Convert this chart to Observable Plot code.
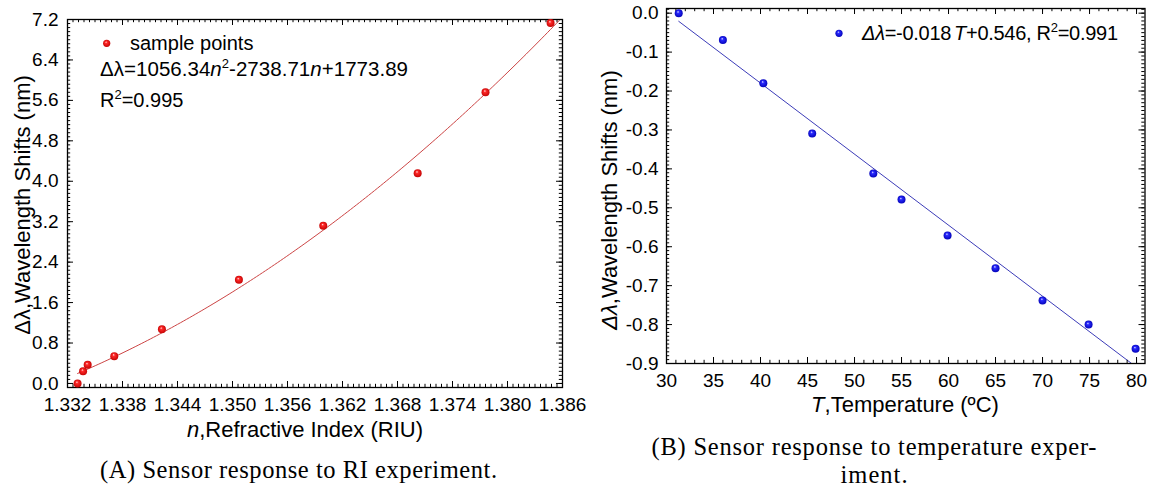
<!DOCTYPE html>
<html><head><meta charset="utf-8">
<script src="https://cdn.jsdelivr.net/npm/d3@7"></script>
<script src="https://cdn.jsdelivr.net/npm/@observablehq/plot@0.6"></script>
<style>
html,body{margin:0;padding:0;background:#fff;}
#wrap{position:relative;width:1152px;height:488px;overflow:hidden;background:#fff;}
#panelA{position:absolute;left:0;top:0;}
#panelB{position:absolute;left:576px;top:0;}
#overlay{position:absolute;left:0;top:0;pointer-events:none;font-family:"Liberation Sans",Arial,sans-serif;}
</style></head><body>
<svg width="0" height="0" style="position:absolute">
<defs>
<radialGradient id="ballRed" cx="50%" cy="50%" r="55%" fx="40%" fy="32%">
<stop offset="0%" stop-color="#ffe6e6"/>
<stop offset="28%" stop-color="#ff2a2a"/>
<stop offset="100%" stop-color="#c00000"/>
</radialGradient>
<radialGradient id="ballBlue" cx="50%" cy="50%" r="55%" fx="40%" fy="32%">
<stop offset="0%" stop-color="#e6e6ff"/>
<stop offset="28%" stop-color="#2a2aff"/>
<stop offset="100%" stop-color="#0000b4"/>
</radialGradient>
</defs></svg>
<div id="wrap">
<div id="panelA"></div>
<div id="panelB"></div>
<svg id="overlay" width="1152" height="488">
  <!-- Panel A texts -->
  <text transform="translate(30,205) rotate(-90)" text-anchor="middle" font-size="22" fill="#000">Δλ,Wavelength Shifts (nm)</text>
  <text x="305" y="437" text-anchor="middle" font-size="22" fill="#000"><tspan font-style="italic">n</tspan>,Refractive Index (RIU)</text>
  <circle cx="106.7" cy="43.3" r="3.6" fill="url(#ballRed)"/>
  <text x="130" y="50" font-size="20" fill="#000">sample points</text>
  <text x="100" y="76" font-size="20.5" textLength="308" lengthAdjust="spacing" fill="#000">Δλ=1056.34<tspan font-style="italic">n</tspan><tspan dy="-8" font-size="13">2</tspan><tspan dy="8">-2738.71</tspan><tspan font-style="italic">n</tspan>+1773.89</text>
  <text x="100" y="106.7" font-size="20" fill="#000">R<tspan dy="-8" font-size="13">2</tspan><tspan dy="8">=0.995</tspan></text>
  <!-- Panel B texts -->
  <text transform="translate(617,200) rotate(-90)" text-anchor="middle" font-size="22" fill="#000"><tspan font-style="italic">Δλ</tspan>,Wavelength Shifts (nm)</text>
  <text x="905" y="412" text-anchor="middle" font-size="22" fill="#000"><tspan font-style="italic">T</tspan>,Temperature (ºC)</text>
  <circle cx="839" cy="33.3" r="3.6" fill="url(#ballBlue)"/>
  <text x="862" y="40" font-size="20" textLength="256" lengthAdjust="spacing" fill="#000"><tspan font-style="italic">Δλ</tspan>=-0.018<tspan font-style="italic" dx="3">T</tspan>+0.546, R<tspan dy="-8" font-size="13">2</tspan><tspan dy="8">=0.991</tspan></text>
  <!-- Captions -->
  <text x="298.5" y="478" text-anchor="middle" font-family="'Liberation Serif','Times New Roman',serif" font-size="24.5" textLength="397" lengthAdjust="spacing" fill="#000">(A) Sensor response to RI experiment.</text>
  <text x="874" y="455" text-anchor="middle" font-family="'Liberation Serif','Times New Roman',serif" font-size="24.5" textLength="445" lengthAdjust="spacing" fill="#000">(B) Sensor response to temperature exper-</text>
  <text x="874" y="483" text-anchor="middle" font-family="'Liberation Serif','Times New Roman',serif" font-size="24.5" textLength="67" lengthAdjust="spacing" fill="#000">iment.</text>
</svg>
</div>
<script>
// ---------- Data: panel A (refractive index) ----------
const nA = [1.3331, 1.3337, 1.3342, 1.3371, 1.3423, 1.3507, 1.3599, 1.3702, 1.3776, 1.3847];
const dA = [0.00, 0.24, 0.37, 0.54, 1.07, 2.05, 3.12, 4.16, 5.76, 7.13];
const xTicksA = [1.332, 1.338, 1.344, 1.350, 1.356, 1.362, 1.368, 1.374, 1.380, 1.386];
const yTicksA = [0.0, 0.8, 1.6, 2.4, 3.2, 4.0, 4.8, 5.6, 6.4, 7.2];

// ---------- Data: panel B (temperature) ----------
const TB = [31.3, 36.0, 40.3, 45.5, 52.0, 55.0, 59.9, 65.0, 70.0, 74.9, 79.9];
const dB = [0.000, -0.069, -0.180, -0.309, -0.412, -0.479, -0.571, -0.655, -0.738, -0.800, -0.862];
const xTicksB = [30, 35, 40, 45, 50, 55, 60, 65, 70, 75, 80];
const yTicksB = [0.0, -0.1, -0.2, -0.3, -0.4, -0.5, -0.6, -0.7, -0.8, -0.9];

const dataA = nA.map((n, i) => ({n, d: dA[i]}));
const dataB = TB.map((t, i) => ({t, d: dB[i]}));

// least-squares quadratic fit of the sample points
function quadFit(xs, ys) {
  const m = d3.mean(xs);
  const u = xs.map(x => (x - m) * 100);
  const S = [0,0,0,0,0], T = [0,0,0];
  u.forEach((ui, i) => {
    for (let k = 0; k < 5; k++) S[k] += ui ** k;
    for (let k = 0; k < 3; k++) T[k] += ys[i] * ui ** k;
  });
  const M = [[S[0],S[1],S[2],T[0]],[S[1],S[2],S[3],T[1]],[S[2],S[3],S[4],T[2]]];
  for (let i = 0; i < 3; i++) for (let j = i + 1; j < 3; j++) {
    const f = M[j][i] / M[i][i];
    for (let k = i; k < 4; k++) M[j][k] -= f * M[i][k];
  }
  const c = M[2][3] / M[2][2];
  const b = (M[1][3] - M[1][2] * c) / M[1][1];
  const a = (M[0][3] - M[0][1] * b - M[0][2] * c) / M[0][0];
  return x => { const v = (x - m) * 100; return a + b * v + c * v * v; };
}

const font = "'Liberation Sans', Arial, sans-serif";

function inwardTicks(xs, ys, fw, fh, len) {
  return [
    Plot.tickX(xs, {x: d => d, insetTop: fh - len, stroke: "#000", strokeWidth: 1}),
    Plot.tickX(xs, {x: d => d, insetBottom: fh - len, stroke: "#000", strokeWidth: 1}),
    Plot.tickY(ys, {y: d => d, insetRight: fw - len, stroke: "#000", strokeWidth: 1}),
    Plot.tickY(ys, {y: d => d, insetLeft: fw - len, stroke: "#000", strokeWidth: 1})
  ];
}
function steps(lo, hi, step, dec) {
  const out = [];
  const n = Math.round((hi - lo) / step);
  for (let i = 0; i <= n; i++) out.push(+(lo + i * step).toFixed(dec));
  return out;
}

// ---------- Panel A ----------
{
  const W = 576, H = 445, ml = 67, mr = 14, mt = 19, mb = 58;
  const fw = W - ml - mr, fh = H - mt - mb;
  const xDom = [1.332, 1.386], yDom = [-0.08, 7.2];
  const f = quadFit(nA, dA);
  const n0 = d3.min(nA), n1 = xDom[1];
  const fitA = d3.range(0, 161).map(i => { const n = n0 + (n1 - n0) * i / 160; return {n, d: f(n)}; });
  const xMinor = steps(1.332, 1.386, 0.0006, 5);
  const yMinor = steps(-0.08, 7.2, 0.08, 3);
  const chart = Plot.plot({
    width: W, height: H, marginLeft: ml, marginRight: mr, marginTop: mt, marginBottom: mb,
    style: {fontSize: "19px", fontFamily: font, color: "#000", background: "transparent", overflow: "visible"},
    x: {domain: xDom, ticks: xTicksA, tickFormat: d => d.toFixed(3), tickSize: 0, tickPadding: 10, label: null},
    y: {domain: yDom, ticks: yTicksA, tickFormat: d => d.toFixed(1), tickSize: 0, tickPadding: 9, label: null},
    marks: [
      Plot.line(fitA, {x: "n", y: "d", stroke: "#cc4444", strokeWidth: 1, clip: true}),
      ...inwardTicks(xMinor, yMinor, fw, fh, 3.2),
      ...inwardTicks(xTicksA, yTicksA, fw, fh, 6),
      Plot.frame({stroke: "#000", strokeWidth: 1.3}),
      Plot.dot(dataA, {x: "n", y: "d", r: 4, fill: "url(#ballRed)", stroke: "none"})
    ]
  });
  document.getElementById("panelA").appendChild(chart);
}

// ---------- Panel B ----------
{
  const W = 576, H = 420, ml = 90, mr = 7.5, mt = 8, mb = 57;
  const fw = W - ml - mr, fh = H - mt - mb;
  const xDom = [30, 80.9], yDom = [-0.9, 0.012];
  const xMinor = steps(30, 80, 1, 0);
  const yMinor = steps(-0.9, 0.01, 0.01, 3);
  const chart = Plot.plot({
    width: W, height: H, marginLeft: ml, marginRight: mr, marginTop: mt, marginBottom: mb,
    style: {fontSize: "19px", fontFamily: font, color: "#000", background: "transparent", overflow: "visible"},
    x: {domain: xDom, ticks: xTicksB, tickFormat: d => String(d), tickSize: 0, tickPadding: 10, label: null},
    y: {domain: yDom, ticks: yTicksB, tickFormat: d => d.toFixed(1), tickSize: 0, tickPadding: 8, label: null},
    marks: [
      Plot.linearRegressionY(dataB, {x: "t", y: "d", stroke: "#3c3cb8", strokeWidth: 1, ci: 0, clip: true}),
      ...inwardTicks(xMinor, yMinor, fw, fh, 3.2),
      ...inwardTicks(xTicksB, yTicksB, fw, fh, 6),
      Plot.frame({stroke: "#000", strokeWidth: 1.3}),
      Plot.dot(dataB, {x: "t", y: "d", r: 4, fill: "url(#ballBlue)", stroke: "none"})
    ]
  });
  document.getElementById("panelB").appendChild(chart);
}
</script>
</body></html>
